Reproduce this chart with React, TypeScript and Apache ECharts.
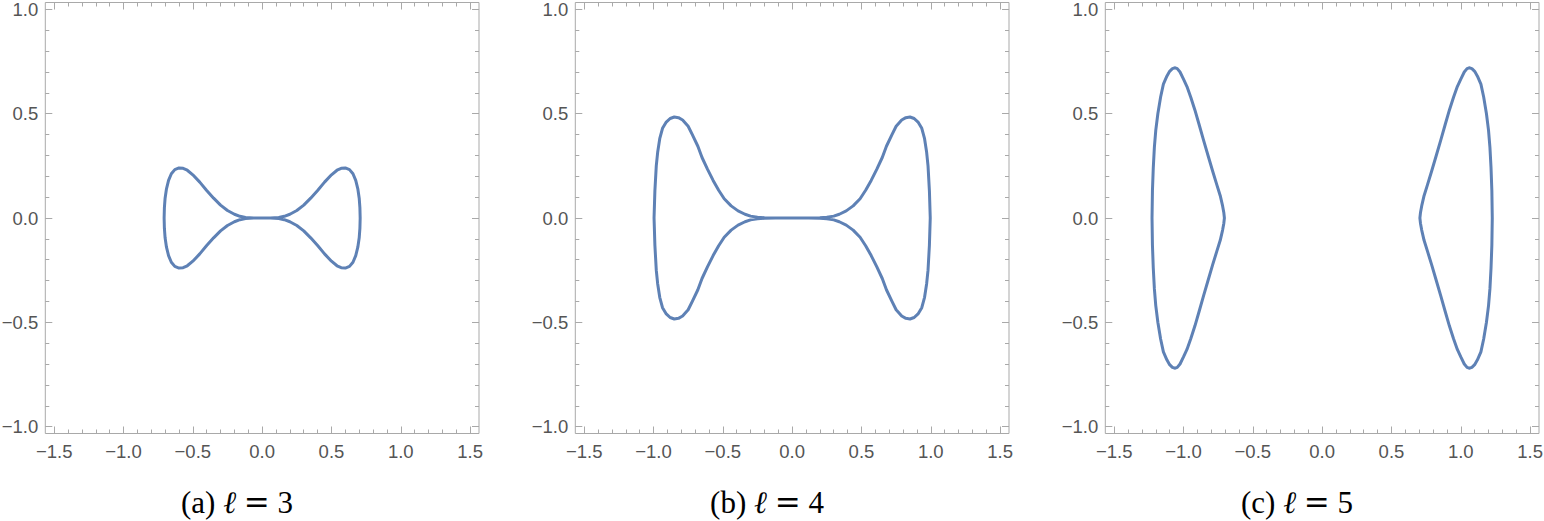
import * as echarts from "echarts";
import { useEffect, useRef } from "react";

// tick labels
const X_MAJOR = [-1.5, -1.0, -0.5, 0, 0.5, 1.0, 1.5];
const Y_MAJOR = [-1.0, -0.5, 0, 0.5, 1.0];
const CAPTION_TAGS = ["(a)", "(b)", "(c)"];
const CAPTION_L = ["3", "4", "5"];

// (a) l = 3 : upper-right quarter of the bow tie
const A_X = [0, 0.06, 0.12, 0.16, 0.2, 0.25, 0.3, 0.35, 0.4, 0.45, 0.5, 0.54, 0.57, 0.6, 0.63, 0.655, 0.675, 0.69, 0.7, 0.705, 0.707];
const A_Y = [0, 0, 0.002, 0.008, 0.018, 0.036, 0.062, 0.095, 0.132, 0.172, 0.207, 0.229, 0.238, 0.24, 0.232, 0.212, 0.18, 0.14, 0.095, 0.05, 0];

// (b) l = 4 : upper-right quarter
const B_X = [0, 0.12, 0.2, 0.25, 0.3, 0.34, 0.39, 0.44, 0.49, 0.53, 0.57, 0.61, 0.65, 0.68, 0.72, 0.75, 0.79, 0.82, 0.85, 0.88, 0.91, 0.935, 0.955, 0.97, 0.98, 0.99, 0.996];
const B_Y = [0, 0, 0.001, 0.004, 0.009, 0.018, 0.034, 0.058, 0.092, 0.133, 0.18, 0.233, 0.29, 0.344, 0.4, 0.44, 0.47, 0.481, 0.484, 0.477, 0.458, 0.43, 0.38, 0.315, 0.25, 0.13, 0];

// (c) l = 5 : upper half of the right lobe, inner edge to outer edge
const C_X = [0.705, 0.709, 0.718, 0.735, 0.76, 0.79, 0.822, 0.855, 0.887, 0.918, 0.947, 0.975, 1.0, 1.025, 1.045, 1.06, 1.08, 1.1, 1.12, 1.145, 1.165, 1.185, 1.2, 1.21, 1.218, 1.224, 1.227];
const C_Y = [0, 0.025, 0.058, 0.107, 0.16, 0.225, 0.297, 0.372, 0.447, 0.518, 0.578, 0.63, 0.666, 0.7, 0.716, 0.72, 0.716, 0.703, 0.68, 0.642, 0.58, 0.5, 0.42, 0.34, 0.24, 0.13, 0];

const X_LIM = 1.564;
const Y_LIM = 1.033;
const PANEL_X = [0, 530, 1060];
const CURVE_COLOR = "#5e81b5";
const FRAME_COLOR = "#a9a9a9";
const LABEL_COLOR = "#555555";
const SERIF = "'Liberation Serif', 'DejaVu Serif', serif";

function minorTicks(major: number[]) {
  const out: number[] = [];
  for (let i = 0; i < major.length - 1; i++) {
    const step = (major[i + 1] - major[i]) / 5;
    for (let k = 1; k < 5; k++) out.push(Math.round((major[i] + step * k) * 100) / 100);
  }
  return out;
}

// closed loop symmetric in both axes, from one quarter
function bowTie(xs: number[], ys: number[]) {
  const n = xs.length;
  const pts: number[][] = [];
  for (let i = n - 1; i >= 0; i--) pts.push([-xs[i], ys[i]]);
  for (let i = 1; i < n; i++) pts.push([xs[i], ys[i]]);
  for (let i = n - 2; i >= 0; i--) pts.push([xs[i], -ys[i]]);
  for (let i = 1; i < n; i++) pts.push([-xs[i], -ys[i]]);
  return pts;
}

// closed lobe from its upper half, mirrored in y; sign picks the side
function lobe(xs: number[], ys: number[], sign: number) {
  const n = xs.length;
  const pts: number[][] = [];
  for (let i = 0; i < n; i++) pts.push([sign * xs[i], ys[i]]);
  for (let i = n - 2; i >= 0; i--) pts.push([sign * xs[i], -ys[i]]);
  return pts;
}

const fmt = (v: number) => v.toFixed(1).replace("-", "\u2212");

const tickStyle = { color: FRAME_COLOR, width: 1 };
const labelStyle = {
  fontFamily: "'Liberation Sans', Arial, sans-serif",
  fontSize: 18.5,
  color: LABEL_COLOR,
  formatter: fmt
};

function axesFor(g: number, dim: "x" | "y") {
  const lim = dim === "x" ? X_LIM : Y_LIM;
  const major = dim === "x" ? X_MAJOR : Y_MAJOR;
  const minor = minorTicks(major);
  const [near, far] = dim === "x" ? ["bottom", "top"] : ["left", "right"];
  const base = {
    type: "value",
    gridIndex: g,
    min: -lim,
    max: lim,
    splitLine: { show: false },
    axisLine: { show: false, onZero: false }
  };
  return [
    {
      ...base,
      position: near,
      axisTick: { inside: true, length: 7, customValues: major, lineStyle: tickStyle },
      axisLabel: {
        ...labelStyle,
        customValues: major,
        margin: dim === "x" ? 9 : 7,
        lineHeight: dim === "x" ? 18 : 14
      }
    },
    {
      ...base,
      position: near,
      axisTick: { inside: true, length: 4, customValues: minor, lineStyle: tickStyle },
      axisLabel: { show: false }
    },
    {
      ...base,
      position: far,
      axisTick: { inside: true, length: 7, customValues: major, lineStyle: tickStyle },
      axisLabel: { show: false }
    },
    {
      ...base,
      position: far,
      axisTick: { inside: true, length: 4, customValues: minor, lineStyle: tickStyle },
      axisLabel: { show: false }
    }
  ];
}

function curve(g: number, data: number[][]) {
  return {
    type: "line",
    xAxisIndex: 4 * g,
    yAxisIndex: 4 * g,
    data,
    symbol: "none",
    showSymbol: false,
    silent: true,
    lineStyle: { color: CURVE_COLOR, width: 3, join: "round", cap: "round" }
  };
}

export default function App() {
  const chartRef = useRef<HTMLDivElement>(null);

  useEffect(() => {
    if (!chartRef.current) return;

    const chart = echarts.init(chartRef.current, null, { renderer: "svg" });

    chart.setOption({
      animation: false,
      backgroundColor: "#ffffff",
      grid: PANEL_X.map((px) => ({
        left: px + 45.3,
        top: 2.5,
        width: 433.7,
        height: 431,
        show: true,
        borderColor: FRAME_COLOR,
        borderWidth: 1,
        outerBoundsMode: "none"
      })),
      xAxis: PANEL_X.flatMap((_, g) => axesFor(g, "x")),
      yAxis: PANEL_X.flatMap((_, g) => axesFor(g, "y")),
      series: [
        curve(0, bowTie(A_X, A_Y)),
        curve(1, bowTie(B_X, B_Y)),
        curve(2, lobe(C_X, C_Y, 1)),
        curve(2, lobe(C_X, C_Y, -1))
      ],
      graphic: PANEL_X.map((px, g) => ({
        type: "text",
        x: px + 237,
        y: 502,
        style: {
          text: `{n|${CAPTION_TAGS[g]}} {l|\u2113} {m|=} {n|${CAPTION_L[g]}}`,
          fontFamily: SERIF,
          fontSize: 31,
          fill: "#000000",
          align: "center",
          verticalAlign: "middle",
          rich: {
            n: { fontFamily: SERIF, fontSize: 31, fill: "#000000" },
            l: { fontFamily: SERIF, fontSize: 31, fontStyle: "italic", fill: "#000000" },
            m: { fontFamily: "'DejaVu Serif', serif", fontSize: 31, fill: "#000000" }
          }
        }
      }))
    });

    return () => {
      chart.dispose();
    };
  }, []);

  return (
    <div
      ref={chartRef}
      style={{ position: "fixed", left: 0, top: 0, width: 1544, height: 521 }}
    />
  );
}
